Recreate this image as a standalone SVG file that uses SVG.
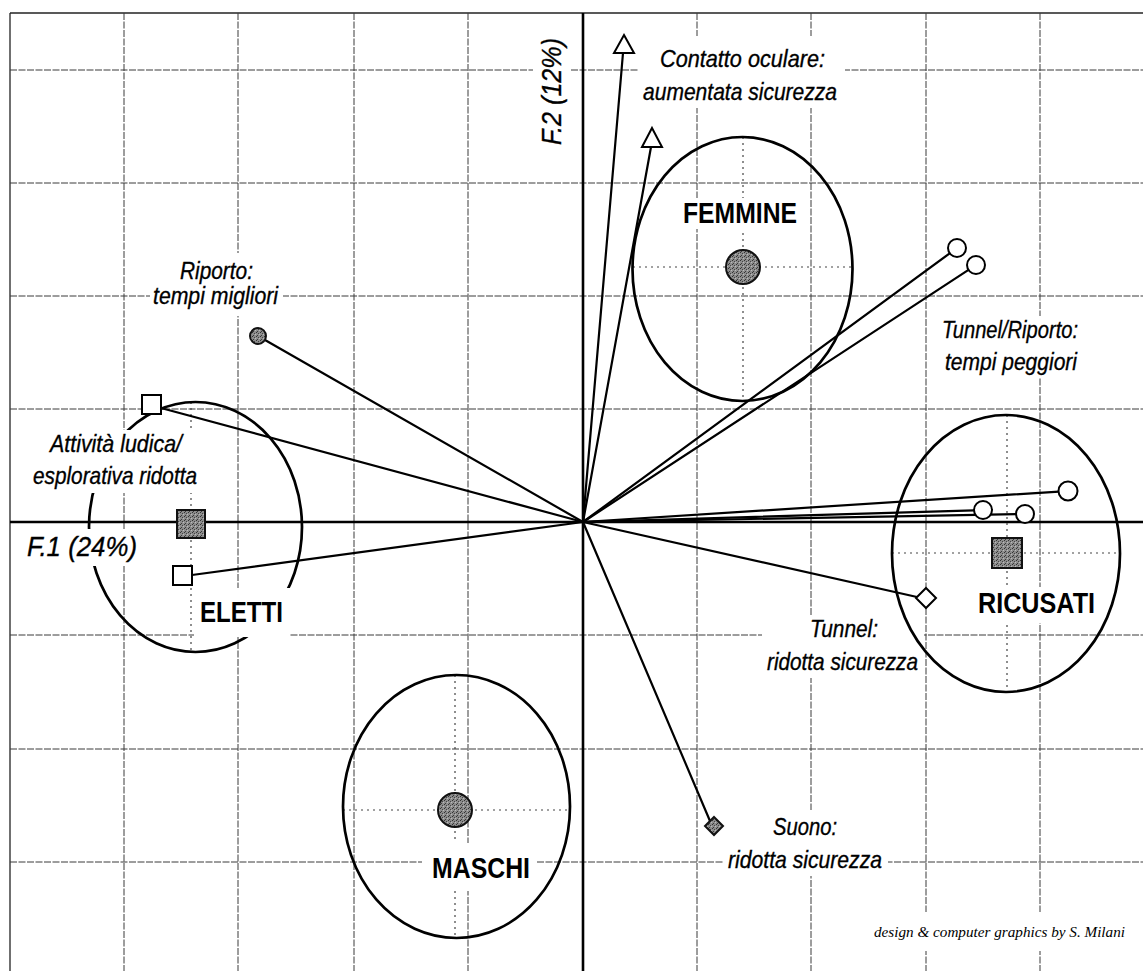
<svg xmlns="http://www.w3.org/2000/svg" width="1143" height="971" viewBox="0 0 1143 971">
<defs>
<pattern id="mottle" width="4" height="4" patternUnits="userSpaceOnUse">
<rect width="4" height="4" fill="#8c8c8c"/>
<rect x="0" y="0" width="1" height="1" fill="#333"/>
<rect x="2" y="1" width="1" height="1" fill="#444"/>
<rect x="1" y="3" width="1" height="1" fill="#3a3a3a"/>
<rect x="3" y="2" width="1" height="1" fill="#bbb"/>
</pattern>
<style>
.grid{stroke:#3a3a3a;stroke-width:1;stroke-dasharray:7 1.5;fill:none}
.frame{stroke:#222;stroke-width:1.3;fill:none}
.axis{stroke:#000;stroke-width:2.6;fill:none}
.dot{stroke:#444;stroke-width:1.2;stroke-dasharray:2 4;fill:none}
.ell{stroke:#000;stroke-width:2.7;fill:none}
.conn{stroke:#000;stroke-width:2.2;fill:none;stroke-linecap:round}
.open{fill:#fff;stroke:#000;stroke-width:2}
.solid{fill:url(#mottle);stroke:#111;stroke-width:2}
.bg{fill:#fff;stroke:none}
.it{font-family:"Liberation Sans",Arial,sans-serif;font-style:italic;font-size:24px;fill:#000;stroke:#000;stroke-width:0.35}
.big{font-family:"Liberation Sans",Arial,sans-serif;font-style:italic;font-size:27px;fill:#000;stroke:#000;stroke-width:0.35}
.bold{font-family:"Liberation Sans",Arial,sans-serif;font-weight:bold;font-size:29px;fill:#000}
.credit{font-family:"Liberation Serif","Times New Roman",serif;font-style:italic;font-size:15.5px;fill:#000}
</style>
</defs>
<rect width="1143" height="971" fill="#fff"/>

<g id="grid">
<line class="frame" x1="10" y1="13" x2="1143" y2="13"/>
<line class="frame" x1="10" y1="13" x2="10" y2="971"/>
<line class="grid" x1="124" y1="13" x2="124" y2="971"/>
<line class="grid" x1="238" y1="13" x2="238" y2="971"/>
<line class="grid" x1="354" y1="13" x2="354" y2="971"/>
<line class="grid" x1="468" y1="13" x2="468" y2="971"/>
<line class="grid" x1="697" y1="13" x2="697" y2="971"/>
<line class="grid" x1="811" y1="13" x2="811" y2="971"/>
<line class="grid" x1="926" y1="13" x2="926" y2="971"/>
<line class="grid" x1="1040" y1="13" x2="1040" y2="971"/>
<line class="grid" x1="10" y1="70" x2="1143" y2="70"/>
<line class="grid" x1="10" y1="183" x2="1143" y2="183"/>
<line class="grid" x1="10" y1="296" x2="1143" y2="296"/>
<line class="grid" x1="10" y1="409" x2="1143" y2="409"/>
<line class="grid" x1="10" y1="635" x2="1143" y2="635"/>
<line class="grid" x1="10" y1="749" x2="1143" y2="749"/>
<line class="grid" x1="10" y1="862" x2="1143" y2="862"/>
</g>

<g id="axes">
<line class="axis" x1="10" y1="522" x2="1143" y2="522"/>
<line class="axis" x1="583" y1="13" x2="583" y2="971"/>
</g>

<g id="group-guides">
<line class="dot" x1="743" y1="137" x2="743" y2="401"/>
<line class="dot" x1="633" y1="267" x2="852" y2="267"/>
<line class="dot" x1="191" y1="402" x2="191" y2="652"/>
<line class="dot" x1="1007" y1="415" x2="1007" y2="692"/>
<line class="dot" x1="892" y1="553" x2="1120" y2="553"/>
<line class="dot" x1="455" y1="675" x2="455" y2="938"/>
<line class="dot" x1="343" y1="810" x2="570" y2="810"/>
</g>

<g id="eletti-ellipse">
<ellipse class="ell" cx="195.5" cy="527" rx="106.5" ry="125"/>
</g>

<g id="labels">
<rect class="bg" x="638" y="36" width="207" height="72"/>
<text class="it" x="660" y="67" textLength="165" lengthAdjust="spacingAndGlyphs">Contatto oculare:</text>
<text class="it" x="643" y="100" textLength="194" lengthAdjust="spacingAndGlyphs">aumentata sicurezza</text>

<rect class="bg" x="533" y="34" width="38" height="116"/>
<text class="big" transform="translate(561,145) rotate(-90)" x="0" y="0" textLength="107" lengthAdjust="spacingAndGlyphs">F.2 (12%)</text>

<rect class="bg" x="150" y="253" width="133" height="63"/>
<text class="it" x="180" y="279" textLength="73" lengthAdjust="spacingAndGlyphs">Riporto:</text>
<text class="it" x="153" y="304" textLength="125" lengthAdjust="spacingAndGlyphs">tempi migliori</text>

<rect class="bg" x="28" y="430" width="175" height="63"/>
<text class="it" x="50" y="452" textLength="132" lengthAdjust="spacingAndGlyphs">Attività ludica/</text>
<text class="it" x="33" y="484" textLength="164" lengthAdjust="spacingAndGlyphs">esplorativa ridotta</text>

<rect class="bg" x="22" y="529" width="119" height="37"/>
<text class="big" x="27" y="556" textLength="110" lengthAdjust="spacingAndGlyphs">F.1 (24%)</text>

<rect class="bg" x="936" y="316" width="148" height="62"/>
<text class="it" x="942" y="338" textLength="136" lengthAdjust="spacingAndGlyphs">Tunnel/Riporto:</text>
<text class="it" x="945" y="370" textLength="132" lengthAdjust="spacingAndGlyphs">tempi peggiori</text>

<rect class="bg" x="762" y="615" width="162" height="63"/>
<text class="it" x="810" y="637" textLength="68" lengthAdjust="spacingAndGlyphs">Tunnel:</text>
<text class="it" x="767" y="670" textLength="151" lengthAdjust="spacingAndGlyphs">ridotta sicurezza</text>

<rect class="bg" x="724" y="810" width="164" height="66"/>
<text class="it" x="773" y="835" textLength="64" lengthAdjust="spacingAndGlyphs">Suono:</text>
<text class="it" x="728" y="868" textLength="154" lengthAdjust="spacingAndGlyphs">ridotta sicurezza</text>

<rect class="bg" x="868" y="912" width="264" height="39"/>
<text class="credit" x="874" y="937" textLength="251" lengthAdjust="spacingAndGlyphs">design &amp; computer graphics by S. Milani</text>
</g>

<g id="node-femmine">
<rect class="bg" x="680" y="198" width="121" height="31"/>
<text class="bold" x="683" y="223" textLength="114" lengthAdjust="spacingAndGlyphs">FEMMINE</text>
<ellipse class="ell" cx="742.5" cy="269" rx="110" ry="132"/>
<circle class="solid" cx="743" cy="267" r="17"/>
</g>

<g id="node-eletti">
<rect class="bg" x="194" y="588" width="96" height="49"/>
<text class="bold" x="200" y="622" textLength="83" lengthAdjust="spacingAndGlyphs">ELETTI</text>
<rect class="solid" x="177" y="510" width="28" height="28"/>
</g>

<g id="node-ricusati">
<rect class="bg" x="974" y="587" width="125" height="36"/>
<text class="bold" x="978" y="613" textLength="117" lengthAdjust="spacingAndGlyphs">RICUSATI</text>
<ellipse class="ell" cx="1006" cy="553.5" rx="114" ry="138.5"/>
<rect class="solid" x="992" y="538" width="30" height="30"/>
</g>

<g id="node-maschi">
<rect class="bg" x="422" y="843" width="115" height="48"/>
<text class="bold" x="432" y="878" textLength="98" lengthAdjust="spacingAndGlyphs">MASCHI</text>
<ellipse class="ell" cx="456.5" cy="806.5" rx="113.5" ry="131.5"/>
<circle class="solid" cx="455" cy="810" r="17"/>
</g>

<g id="connectors">
<line class="conn" x1="583" y1="522" x2="623" y2="53"/>
<line class="conn" x1="583" y1="522" x2="651" y2="147"/>
<line class="conn" x1="583" y1="522" x2="949.7" y2="253.3"/>
<line class="conn" x1="583" y1="522" x2="968.5" y2="269.9"/>
<line class="conn" x1="583" y1="522" x2="1059" y2="491.6"/>
<line class="conn" x1="583" y1="522" x2="974" y2="510.3"/>
<line class="conn" x1="583" y1="522" x2="1016" y2="514.2"/>
<line class="conn" x1="583" y1="522" x2="917" y2="597"/>
<line class="conn" x1="583" y1="522" x2="710" y2="821"/>
<line class="conn" x1="583" y1="522" x2="265" y2="340"/>
<line class="conn" x1="583" y1="522" x2="161" y2="408"/>
<line class="conn" x1="583" y1="522" x2="192" y2="575"/>
</g>

<g id="markers">
<polygon id="tri-1" class="open" points="624,35 634,53 614,53"/>
<polygon id="tri-2" class="open" points="652,128 662,147 642,147"/>
<circle id="circ-1" class="open" cx="957" cy="248" r="9"/>
<circle id="circ-2" class="open" cx="976" cy="265" r="9"/>
<circle id="circ-3" class="open" cx="1068" cy="491" r="9.5"/>
<circle id="circ-4" class="open" cx="983" cy="510" r="9"/>
<circle id="circ-5" class="open" cx="1025" cy="514" r="9"/>
<polygon id="dia-1" class="open" points="926,588 936,598 926,608 916,598"/>
<polygon id="dia-2" class="solid" points="714,817 723,826 714,835 705,826"/>
<circle id="dot-riporto" class="solid" cx="258" cy="336" r="8"/>
<rect id="sq-1" class="open" x="142" y="395" width="19" height="19"/>
<rect id="sq-2" class="open" x="173" y="566" width="19" height="19"/>
</g>
</svg>
